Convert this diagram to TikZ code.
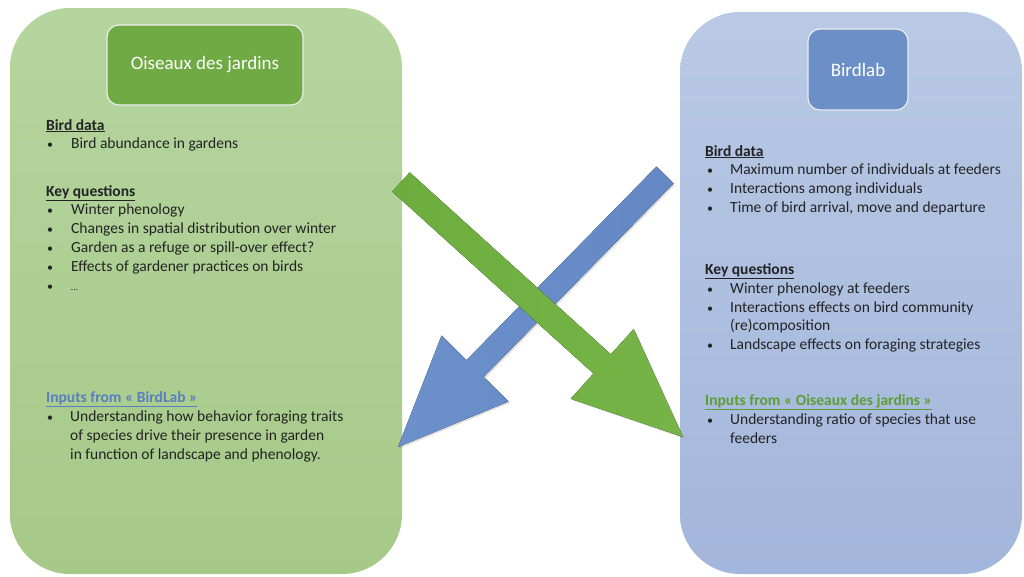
\documentclass[tikz,border=0pt]{standalone}
\usepackage{fontspec}
\setmainfont{Carlito}
\usetikzlibrary{calc,shadows}
\definecolor{gbgTop}{HTML}{B5D59F}
\definecolor{gbgBot}{HTML}{A6C988}
\definecolor{bbgTop}{HTML}{B9C9E5}
\definecolor{bbgBot}{HTML}{A3B6DB}
\definecolor{gtitle}{HTML}{6FAA44}
\definecolor{btitle}{HTML}{6D8FC7}
\definecolor{garrow}{HTML}{6DAD3E}
\definecolor{garrowB}{HTML}{76B447}
\definecolor{barrow}{HTML}{6C90CA}
\definecolor{barrowB}{HTML}{6388C4}
\definecolor{txtgray}{HTML}{232323}
\definecolor{inblue}{HTML}{5A7EC0}
\definecolor{ingreen}{HTML}{5C9E36}
\newcommand\bitem[2][24pt]{\makebox[#1][l]{\fontsize{12}{14}\selectfont •}#2}
\newcommand\hd[1]{\textbf{\underline{#1}}}
\begin{document}
\begin{tikzpicture}[x=1pt,y=-1pt,
  bigbox/.style={rounded corners=60pt, inner sep=0pt, draw=none},
  titlebox/.style={rounded corners=12pt, draw=white!85!gray, line width=1.2pt,
     text=white, font=\fontsize{19}{22}\selectfont, inner sep=0pt},
  txt/.style={anchor=base west, inner sep=0pt, text=txtgray,
     font=\fontsize{15.5}{18}\selectfont},
  arrowshape/.style={draw=none, drop shadow={opacity=0.25, shadow xshift=1.5pt, shadow yshift=-1.5pt}}
]
\useasboundingbox (0,0) rectangle (1024,576);
\fill[white] (0,0) rectangle (1024,576);

% big boxes
\node[bigbox, top color=gbgTop, bottom color=gbgBot,
  minimum width=392pt, minimum height=566pt] (leftbox) at (206,291) {};
\node[bigbox, top color=bbgTop, bottom color=bbgBot,
  minimum width=342pt, minimum height=562pt] (rightbox) at (851,293) {};

% title boxes
\node[titlebox, fill=gtitle, minimum width=196pt, minimum height=80pt] (tleft) at (205,65) {Oiseaux des jardins};
\node[titlebox, fill=btitle, minimum width=100pt, minimum height=81pt] (tright) at (858,69.5) {Birdlab};

% left texts
\node[txt] (lbd) at (46,130) {\hd{Bird data}};
\node[txt] (l1) at (47,148) {\bitem{Bird abundance in gardens}};
\node[txt] (lkq) at (46,196) {\hd{Key questions}};
\node[txt] (l2) at (47,214) {\bitem{Winter phenology}};
\node[txt] (l3) at (47,233) {\bitem{Changes in spatial distribution over winter}};
\node[txt] (l4) at (47,252) {\bitem{Garden as a refuge or spill-over effect?}};
\node[txt] (l5) at (47,271) {\bitem{Effects of gardener practices on birds}};
\node[txt] (l6) at (47,290) {\bitem{\fontsize{10}{12}\selectfont …}};
\node[txt, text=inblue] (lin) at (46,402) {\hd{Inputs from «~BirdLab~»}};
\node[txt] (l7) at (47,421) {\bitem[23pt]{Understanding how behavior foraging traits}};
\node[txt] (l8) at (70,440) {of species drive their presence in garden};
\node[txt] (l9) at (70,459) {in function of landscape and phenology.};

% right texts
\node[txt] (rbd) at (705,156) {\hd{Bird data}};
\node[txt] (r1) at (707,174) {\bitem[23pt]{Maximum number of individuals at feeders}};
\node[txt] (r2) at (707,193) {\bitem[23pt]{Interactions among individuals}};
\node[txt] (r3) at (707,212) {\bitem[23pt]{Time of bird arrival, move and departure}};
\node[txt] (rkq) at (705,274) {\hd{Key questions}};
\node[txt] (r4) at (707,293) {\bitem[23pt]{Winter phenology at feeders}};
\node[txt] (r5) at (707,312) {\bitem[23pt]{Interactions effects on bird community}};
\node[txt] (r6) at (730,330) {(re)composition};
\node[txt] (r7) at (707,349) {\bitem[23pt]{Landscape effects on foraging strategies}};
\node[txt, text=ingreen] (rin) at (705,405) {\hd{Inputs from «~Oiseaux des jardins~»}};
\node[txt] (r8) at (707,424) {\bitem[23pt]{Understanding ratio of species that use}};
\node[txt] (r9) at (730,443) {feeders};

% blue arrow (Birdlab -> Oiseaux des jardins)
\coordinate (bt) at (665,175);
\coordinate (bp) at (398,447);
\coordinate (bb) at ($(bp)!110pt!(bt)$);
\fill[arrowshape, left color=barrow, right color=barrowB]
  ($(bt)!12pt!90:(bp)$) -- ($(bb)!12pt!90:(bp)$) -- ($(bb)!47pt!90:(bp)$) -- (bp)
  -- ($(bb)!47pt!-90:(bp)$) -- ($(bb)!12pt!-90:(bp)$) -- ($(bt)!12pt!-90:(bp)$) -- cycle;

% green arrow (Oiseaux des jardins -> Birdlab)
\coordinate (gt) at (401,182);
\coordinate (gp) at (683,437);
\coordinate (gb) at ($(gp)!109pt!(gt)$);
\fill[arrowshape, left color=garrow, right color=garrowB]
  ($(gt)!13pt!90:(gp)$) -- ($(gb)!13pt!90:(gp)$) -- ($(gb)!47pt!90:(gp)$) -- (gp)
  -- ($(gb)!47pt!-90:(gp)$) -- ($(gb)!13pt!-90:(gp)$) -- ($(gt)!13pt!-90:(gp)$) -- cycle;
\end{tikzpicture}
\end{document}
